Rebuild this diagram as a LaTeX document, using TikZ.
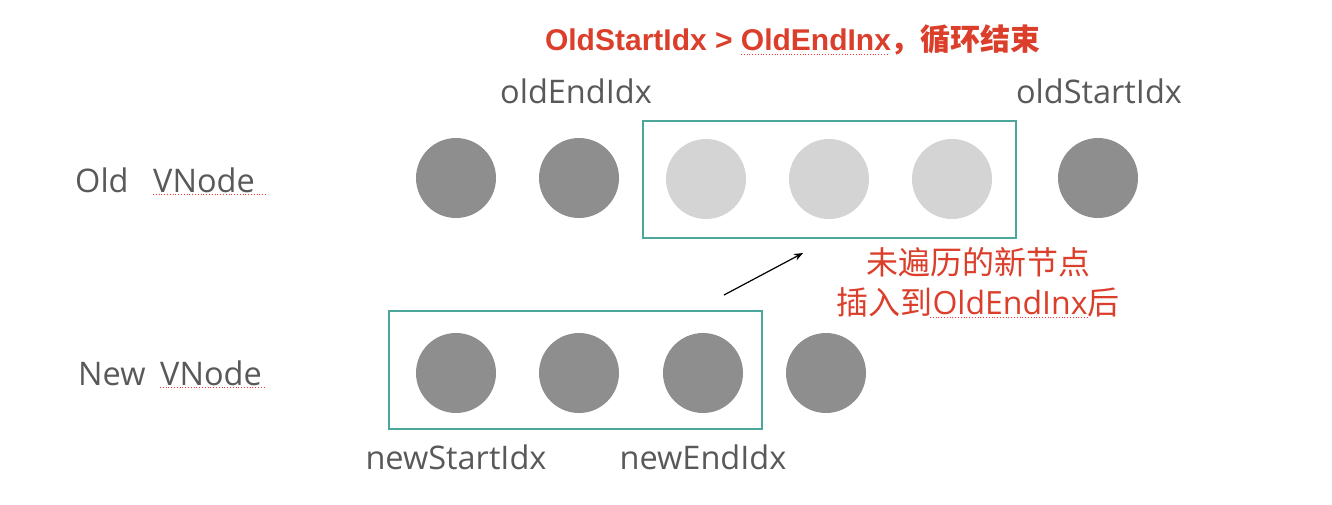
\documentclass[tikz,border=0pt]{standalone}
\usepackage{fontspec}
\setmainfont{Open Sans}
\newfontfamily\cjk{Noto Sans CJK SC}
\newfontfamily\boldsans{Liberation Sans}
\usetikzlibrary{arrows.meta}
\definecolor{txtgray}{RGB}{89,89,89}
\definecolor{darkdot}{RGB}{142,142,142}
\definecolor{lightdot}{RGB}{212,212,212}
\definecolor{teal}{RGB}{77,166,154}
\definecolor{redtxt}{RGB}{219,62,42}
\begin{document}
\begin{tikzpicture}[x=1pt,y=-1pt,
  dot/.style={circle,fill=darkdot,minimum size=80pt,inner sep=0pt},
  ghost/.style={circle,fill=lightdot,minimum size=80pt,inner sep=0pt},
  frame/.style={draw=teal,line width=1.8pt},
  lbl/.style={text=txtgray,font=\fontsize{32.5}{38}\selectfont,inner sep=0pt},
  note/.style={text=redtxt,font=\cjk\fontsize{32}{38}\selectfont,inner sep=0pt,align=center},
  squig/.style={draw=red!80!white,dotted,line width=0.8pt}]
\useasboundingbox (0,0) rectangle (1332,504);
% old row
\node[dot] (o1) at (456,178) {};
\node[dot] (o2) at (579,178) {};
\node[ghost] (o3) at (706,179) {};
\node[ghost] (o4) at (829,179) {};
\node[ghost] (o5) at (952,179) {};
\node[dot] (o6) at (1098,178) {};
\draw[frame] (643,121) rectangle (1016,238);
% new row
\node[dot] (n1) at (456,373) {};
\node[dot] (n2) at (579,373) {};
\node[dot] (n3) at (703,373) {};
\node[dot] (n4) at (826,373) {};
\draw[frame] (389,311) rectangle (762,429);
% labels
\node[lbl,anchor=base west] (oldw) at (75,192) {Old};
\node[lbl,anchor=base west] (oldv) at (153,192) {VNode};
\node[lbl,anchor=base west] (neww) at (78,385) {New};
\node[lbl,anchor=base west] (newv) at (160,385) {VNode};
\draw[squig] (oldv.base west) ++(0,2) -- ++(114,0);
\draw[squig] (newv.base west) ++(0,2) -- ++(104,0);
\node[lbl,anchor=base] (oe) at (576,103) {oldEndIdx};
\node[lbl,anchor=base] (os) at (1099,103) {oldStartIdx};
\node[lbl,anchor=base] (ns) at (456,469) {newStartIdx};
\node[lbl,anchor=base] (ne) at (703,469) {newEndIdx};
% title
\node[text=redtxt,inner sep=0pt,anchor=base] (title) at (793,50)
  {\boldsans\bfseries\fontsize{30}{36}\selectfont OldStartIdx > OldEndInx{\cjk，循环结束}};
\draw[squig] (741,54) -- (888,54);
% note
\node[note,anchor=base] (n1t) at (978,274) {未遍历的新节点};
\node[note,anchor=base] (n2t) at (978,314) {插入到{\fontspec{Open Sans}OldEndInx}后};
\draw[squig] (930,317) -- (1087,317);
% arrow
\coordinate (as) at (724,295);
\coordinate (ae) at (803,253);
\draw[-{Stealth[length=9pt,width=7pt]},line width=1.2pt,black] (as) -- (ae);
\end{tikzpicture}
\end{document}
